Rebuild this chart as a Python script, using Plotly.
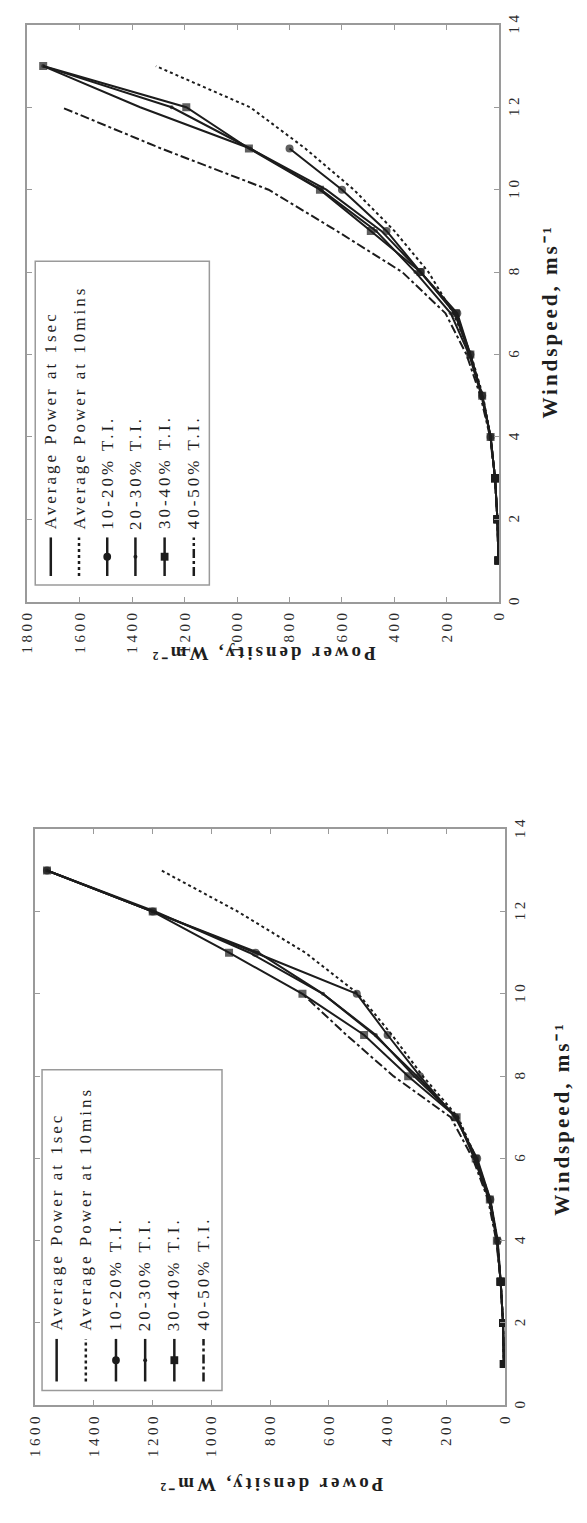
import plotly.graph_objects as go

W_PX, H_PX = 587, 1523

wind = list(range(1, 14))
power_ticks = list(range(0, 1801, 200))
wind_ticks = list(range(0, 15, 2))

# Upper panel: power density (W/m^2) at each wind speed (m/s)
up_avg_1s = [3, 7, 16, 33, 65, 112, 170, 300, 450, 660, 950, 1370, 1740]
up_avg_10m = [3, 7, 16, 33, 62, 108, 175, 270, 400, 555, 740, 950, 1310]
up_ti_10_20 = [3, 7, 16, 33, 65, 110, 160, 300, 430, 600, 800]
up_ti_20_30 = [3, 7, 16, 33, 68, 115, 185, 320, 470, 680, 950, 1250, 1740]
up_ti_30_40 = [3, 7, 16, 33, 65, 110, 165, 300, 490, 684, 955, 1194, 1740]
up_ti_40_50 = [3, 7, 16, 35, 72, 125, 205, 370, 620, 880, 1290, 1670]

# Lower panel
lo_avg_1s = [4, 7, 15, 28, 52, 100, 165, 300, 445, 620, 870, 1190, 1560]
lo_avg_10m = [4, 7, 15, 26, 50, 98, 160, 280, 385, 500, 680, 910, 1170]
lo_ti_10_20 = [4, 7, 15, 25, 50, 95, 170, 290, 400, 505, 850, 1200, 1560]
lo_ti_20_30 = [4, 7, 15, 26, 55, 105, 165, 310, 440, 620, 840, 1200, 1560]
lo_ti_30_40 = [4, 7, 15, 28, 52, 100, 165, 330, 480, 690, 940, 1200, 1560]
lo_ti_40_50 = [4, 7, 15, 30, 58, 110, 185, 380, 540, 690]

legend_labels = [
    "Average Power at 1sec",
    "Average Power at 10mins",
    "10-20% T.I.",
    "20-30% T.I.",
    "30-40% T.I.",
    "40-50% T.I.",
]

INK = "#1c1c1c"
FRAME = "#9a9a9a"
SERIF = "Liberation Serif"

STYLES = [
    dict(dash="solid", symbol=None, msize=0),
    dict(dash="dot", symbol=None, msize=0),
    dict(dash="solid", symbol="circle", msize=8),
    dict(dash="solid", symbol="circle", msize=4),
    dict(dash="solid", symbol="square", msize=8),
    dict(dash="dashdot", symbol=None, msize=0),
]


def spaced(text, px):
    return f"<span style='letter-spacing:{px}px'>{text}</span>"


def px_x(p):
    return p / W_PX


def px_y(p):
    return 1 - p / H_PX


fig = go.Figure()

panels = [
    dict(
        xa="x", ya="y", xkey="xaxis", ykey="yaxis", pmax=1800,
        box=(20, 505, 12, 595),
        series=[up_avg_1s, up_avg_10m, up_ti_10_20, up_ti_20_30, up_ti_30_40, up_ti_40_50],
        legend_box=(28, 207, 251, 578),
        legend_cols=[44, 73, 102, 131, 161, 191],
        legend_line=(530, 569), legend_text_y=524,
        xtitle=(262, 648), ytitle=(557, 312),
    ),
    dict(
        xa="x2", ya="y2", xkey="xaxis2", ykey="yaxis2", pmax=1600,
        box=(28, 511, 825, 1407),
        series=[lo_avg_1s, lo_avg_10m, lo_ti_10_20, lo_ti_20_30, lo_ti_30_40, lo_ti_40_50],
        legend_box=(35, 220, 1068, 1392),
        legend_cols=[50, 80, 111, 141, 171, 201],
        legend_line=(1340, 1383), legend_text_y=1334,
        xtitle=(270, 1487), ytitle=(570, 1117),
    ),
]

for pan in panels:
    # data curves
    for vals, st in zip(pan["series"], STYLES):
        n = len(vals)
        xs, ys = vals, wind[:n]
        # the lowest three wind bins are marked with filled squares
        sym = st["symbol"]
        symbols = []
        sizes = []
        for w in ys:
            if w <= 3:
                symbols.append("square")
                sizes.append(8)
            else:
                symbols.append(sym if sym else "circle")
                sizes.append(st["msize"])
        fig.add_trace(go.Scatter(
            x=xs, y=ys, mode="lines+markers", xaxis=pan["xa"], yaxis=pan["ya"],
            line=dict(color=INK, width=2, dash=st["dash"]),
            marker=dict(symbol=symbols, size=sizes, color=INK,
                        line=dict(width=0)),
            showlegend=False, hoverinfo="skip",
        ))

    x0, x1, y0, y1 = pan["box"]
    fig.update_layout({
        pan["xkey"]: dict(
            domain=[px_x(x0), px_x(x1)], anchor=pan["ya"],
            range=[pan["pmax"], 0],
            tickvals=[t for t in power_ticks if t <= pan["pmax"]],
            ticktext=[spaced(str(t), 3.5) for t in power_ticks if t <= pan["pmax"]],
            tickangle=-90, ticks="inside", ticklen=5, tickcolor=FRAME,
            showline=True, linecolor=FRAME, linewidth=1.5, mirror="ticks",
            showgrid=False, zeroline=False,
            tickfont=dict(family=SERIF, size=15, color="#2a2a2a"),
        ),
        pan["ykey"]: dict(
            domain=[px_y(y1), px_y(y0)], anchor=pan["xa"], side="right",
            range=[0, 14], tickvals=wind_ticks,
            ticktext=[spaced(str(t), 3.5) for t in wind_ticks],
            tickangle=-90, ticks="inside", ticklen=5, tickcolor=FRAME,
            showline=True, linecolor=FRAME, linewidth=1.5, mirror="ticks",
            showgrid=False, zeroline=False,
            tickfont=dict(family=SERIF, size=15, color="#2a2a2a"),
        ),
    })

    # axis titles (figure is laid out sideways)
    tx, ty = pan["xtitle"]
    fig.add_annotation(
        x=px_x(tx), y=px_y(ty), xref="paper", yref="paper",
        text=spaced("Power density, Wm\u207b\u00b2", 3),
        textangle=180, showarrow=False, xanchor="center", yanchor="middle",
        font=dict(family=SERIF, size=19, color="#1e1e1e", weight="bold"),
    )
    tx, ty = pan["ytitle"]
    fig.add_annotation(
        x=px_x(tx), y=px_y(ty), xref="paper", yref="paper",
        text=spaced("Windspeed, ms\u207b\u00b9", 3),
        textangle=-90, showarrow=False, xanchor="center", yanchor="middle",
        font=dict(family=SERIF, size=21, color="#1e1e1e", weight="bold"),
    )

    # legend box
    lx0, lx1, ly0, ly1 = pan["legend_box"]
    fig.add_shape(type="rect", xref="paper", yref="paper",
                  x0=px_x(lx0), x1=px_x(lx1), y0=px_y(ly1), y1=px_y(ly0),
                  line=dict(color=FRAME, width=1.5), fillcolor="white")
    la, lb = pan["legend_line"]
    for col, label, st in zip(pan["legend_cols"], legend_labels, STYLES):
        fig.add_shape(type="line", xref="paper", yref="paper",
                      x0=px_x(col), x1=px_x(col), y0=px_y(lb), y1=px_y(la),
                      line=dict(color=INK, width=2.5,
                                dash=st["dash"] if st["dash"] != "solid" else None))
        if st["symbol"]:
            r = st["msize"] / 2
            cy = (la + lb) / 2
            fig.add_shape(type="circle" if st["symbol"] == "circle" else "rect",
                          xref="paper", yref="paper",
                          x0=px_x(col - r), x1=px_x(col + r),
                          y0=px_y(cy + r), y1=px_y(cy - r),
                          line=dict(color=INK, width=0), fillcolor=INK)
        fig.add_annotation(
            x=px_x(col), y=px_y(pan["legend_text_y"]), xref="paper", yref="paper",
            text=spaced(label, 3), textangle=-90, showarrow=False,
            xanchor="center", yanchor="bottom",
            font=dict(family=SERIF, size=17, color="#1e1e1e"),
        )

fig.update_layout(
    width=W_PX, height=H_PX,
    margin=dict(l=0, r=0, t=0, b=0),
    paper_bgcolor="white", plot_bgcolor="white",
    showlegend=False,
)

fig.write_html("out.html")
